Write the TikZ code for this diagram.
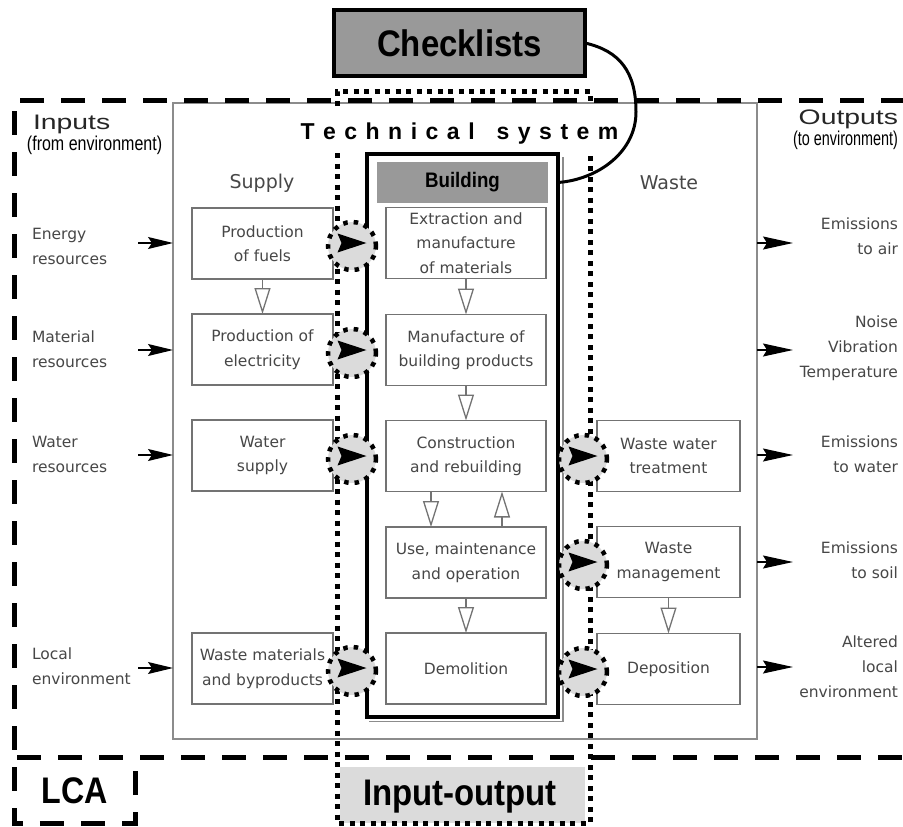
\documentclass[tikz,border=0pt]{standalone}
\usepackage{fontspec}
\setmainfont{DejaVu Sans}
\newfontfamily\hv{Liberation Sans}
\usetikzlibrary{arrows.meta}
\newcommand\tsp{\hspace{8.5pt}}
\begin{document}
\begin{tikzpicture}[x=1pt,y=-1pt,
 every node/.style={inner sep=0pt,outer sep=0pt},
 procbox/.style={draw=black!55, line width=1.3pt, fill=white, minimum height=71pt,
   font=\fontsize{15.5}{24.5}\selectfont, text=black!72, align=center},
 supbox/.style={procbox, minimum width=141pt},
 bldbox/.style={procbox, minimum width=160pt},
 wstbox/.style={procbox, minimum width=143pt},
 flowarr/.style={draw=black!55, line width=1.3pt, -{Triangle[length=26pt,width=16pt,fill=white]}},
 valve/.style={circle, minimum size=48pt, fill=black!14, draw=black, line width=4.5pt, dash pattern=on 4.5pt off 6pt},
 envlbl/.style={font=\fontsize{15.5}{25}\selectfont, text=black!72},
 inarr/.style={line width=1.2pt, -{Stealth[length=25pt,width=12pt,inset=4pt]}},
 outarr/.style={line width=1.2pt, -{Stealth[length=30pt,width=13pt,inset=4pt]}},
 lcadash/.style={line width=5pt, dash pattern=on 24pt off 17pt},
 iodots/.style={line width=5pt, dash pattern=on 5pt off 5.5pt},
 boldlbl/.style={font=\hv\bfseries\fontsize{37}{37}\selectfont},
 colhead/.style={font=\fontsize{19}{19}\selectfont, text=black!72},
]
\useasboundingbox (0,0) rectangle (903,827);
\fill[white] (0,0) rectangle (903,827);

% technical system box
\node[draw=black!45, line width=2pt, minimum width=584pt, minimum height=636pt] (tsys) at (465,421) {};

% input-output shaded label area
\fill[black!14] (340,767) rectangle (585,823);
\node[boldlbl] (iolbl) at (460,797) {\scalebox{0.89}[1]{Input-output}};

% LCA dashed boundary
\draw[lcadash] (905,100) -- (14,100) -- (14,823) -- (135,823) -- (135,757);
\draw[lcadash] (17,757) -- (905,757);
\node[boldlbl] (lcalbl) at (75,791) {\scalebox{0.87}[1]{LCA}};

% input-output dotted boundary
\draw[iodots] (337,106) -- (337,91) -- (590,91) -- (590,106);
\draw[iodots] (337,153) -- (337,823) -- (590,823) -- (590,153);

% title
\node[anchor=base, font=\hv\bfseries\fontsize{23}{23}\selectfont] (title) at (459.5,139)
  {T\tsp e\tsp c\tsp h\tsp n\tsp i\tsp c\tsp a\tsp l\hspace{22pt}s\tsp y\tsp s\tsp t\tsp e\tsp m};

% inputs / outputs headings
\node[anchor=base west, font=\hv\fontsize{21}{21}\selectfont, text=black!85] (inh) at (33,129) {\scalebox{1.35}[1]{Inputs}};
\node[anchor=base west, font=\hv\fontsize{20}{20}\selectfont] (insub) at (27,150) {\scalebox{0.8}[1]{(from environment)}};
\node[anchor=base east, font=\hv\fontsize{21}{21}\selectfont, text=black!85] (outh) at (898,124) {\scalebox{1.35}[1]{Outputs}};
\node[anchor=base east, font=\hv\fontsize{20}{20}\selectfont] (outsub) at (898,145) {\scalebox{0.72}[1]{(to environment)}};

% column headings
\node[colhead] (suph) at (262,183) {Supply};
\node[colhead] (wsth) at (669,183) {Waste};

% building system box
\draw[black!45, line width=1.2pt] (563,157) -- (563,721.5) -- (369,721.5);
\node[draw, line width=4pt, minimum width=191pt, minimum height=563pt] (bldsys) at (462.5,435.5) {};
\node[fill=black!40, minimum width=171pt, minimum height=41pt, font=\hv\bfseries\fontsize{21}{21}\selectfont] (hdr) at (462.5,182.5) {\scalebox{0.89}[1]{Building}};

% supply column
\node[supbox] (s1) at (262.5,243.5) {Production\\of fuels};
\node[supbox] (s2) at (262.5,349.5) {Production of\\electricity};
\node[supbox] (s3) at (262.5,455.5) {Water\\supply};
\node[supbox] (s5) at (262.5,668.5) {Waste materials\\and byproducts};

% building column
\node[bldbox] (b1) at (466,243) {Extraction and\\manufacture\\of materials};
\node[bldbox] (b2) at (466,350) {Manufacture of\\building products};
\node[bldbox] (b3) at (466,456) {Construction\\and rebuilding};
\node[bldbox] (b4) at (466,562.5) {Use, maintenance\\and operation};
\node[bldbox] (b5) at (466,668.5) {Demolition};

% waste column
\node[wstbox] (w3) at (668.5,456) {Waste water\\treatment};
\node[wstbox] (w4) at (668.5,562) {Waste\\management};
\node[wstbox] (w5) at (668.5,669) {Deposition};

% internal flows
\draw[flowarr] (s1.south) -- (s2.north);
\draw[flowarr] (b1.south) -- (b2.north);
\draw[flowarr] (b2.south) -- (b3.north);
\draw[flowarr] ([xshift=-35pt]b3.south) -- ([xshift=-35pt]b4.north);
\draw[flowarr] ([xshift=36pt]b4.north) -- ([xshift=36pt]b3.south);
\draw[flowarr] (b4.south) -- (b5.north);
\draw[flowarr] (w4.south) -- (w5.north);

% exchange valves
\node[valve] (v1) at (352,246) {};
\node[valve] (v2) at (352,353) {};
\node[valve] (v3) at (352,459) {};
\node[valve] (v5) at (352,671) {};
\node[valve] (v6) at (583,459) {};
\node[valve] (v7) at (583,565) {};
\node[valve] (v8) at (583,672) {};
\foreach \v in {v1,v2,v3,v5,v6,v7,v8}
  \fill (\v.center) ++(-14.5,-12.5) -- ++(29,9.5) -- ++(-29,9.5) -- ++(4,-9.5) -- cycle;

% inputs
\node[envlbl, anchor=west, align=left] (ie) at (32,246) {Energy\\resources};
\node[envlbl, anchor=west, align=left] (im) at (32,349) {Material\\resources};
\node[envlbl, anchor=west, align=left] (iw) at (32,454) {Water\\resources};
\node[envlbl, anchor=west, align=left] (il) at (32,666.5) {Local\\environment};
\coordinate (ae) at (138,243);
\coordinate (am) at (138,350);
\coordinate (aw) at (138,455);
\coordinate (al) at (138,668);
\foreach \a in {ae,am,aw,al}
  \draw[inarr] (\a) -- (tsys.west |- \a);

% outputs
\node[envlbl, anchor=east, align=right] (oa) at (898,236) {Emissions\\to air};
\node[envlbl, anchor=east, align=right] (on) at (898,348) {Noise\\Vibration\\Temperature};
\node[envlbl, anchor=east, align=right] (ow) at (898,454.5) {Emissions\\to water};
\node[envlbl, anchor=east, align=right] (os) at (898,560.5) {Emissions\\to soil};
\node[envlbl, anchor=east, align=right] (ol) at (898,667) {Altered\\local\\environment};
\coordinate (pa) at (793,243);
\coordinate (pn) at (793,350);
\coordinate (pw) at (793,455);
\coordinate (ps) at (793,562);
\coordinate (pl) at (793,667);
\foreach \p in {pa,pn,pw,ps,pl}
  \draw[outarr] (tsys.east |- \p) -- (\p);

% checklists
\node[draw, line width=4pt, fill=black!40, minimum width=251pt, minimum height=66pt, boldlbl] (check) at (459.5,43) {\scalebox{0.89}[1]{Checklists}};
\coordinate (ckbend) at (636,112);
\draw[line width=3pt] (check.east) .. controls +(35,8) and +(0,-40) .. (ckbend)
  .. controls +(0,40) and +(40,-3) .. (bldsys.east |- hdr);
\end{tikzpicture}
\end{document}
